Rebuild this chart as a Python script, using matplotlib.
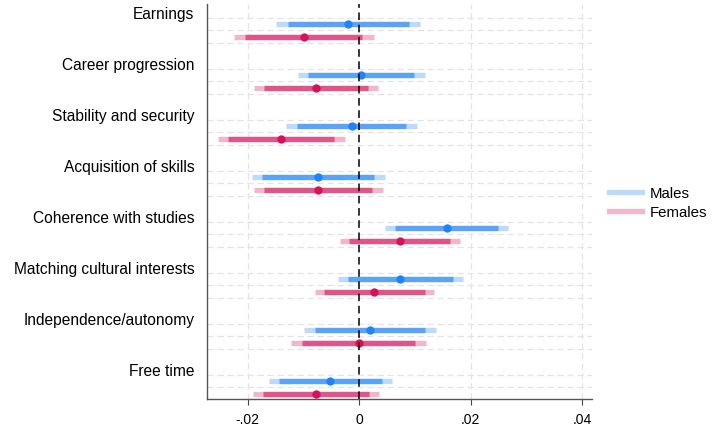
import numpy as np
import matplotlib.pyplot as plt
from matplotlib.lines import Line2D

plt.rcParams['font.family'] = ['Liberation Sans', 'DejaVu Sans']

outcomes = ['Earnings', 'Career progression', 'Stability and security',
            'Acquisition of skills', 'Coherence with studies',
            'Matching cultural interests', 'Independence/autonomy', 'Free time']

# point estimates
male_b = [-0.0020, 0.0004, -0.0013, -0.0074, 0.0157, 0.0074, 0.0020, -0.0052]
female_b = [-0.0099, -0.0077, -0.0140, -0.0073, 0.0073, 0.0027, 0.0000, -0.0078]

# 90% intervals (inner) and 95% intervals (outer)
male_ci90 = [(-0.0128, 0.0089), (-0.0091, 0.0099), (-0.0112, 0.0084), (-0.0174, 0.0027),
             (0.0065, 0.0249), (-0.0020, 0.0168), (-0.0079, 0.0119), (-0.0144, 0.0041)]
male_ci95 = [(-0.0149, 0.0110), (-0.0109, 0.0118), (-0.0131, 0.0104), (-0.0193, 0.0046),
             (0.0047, 0.0268), (-0.0038, 0.0186), (-0.0098, 0.0138), (-0.0162, 0.0059)]
female_ci90 = [(-0.0204, 0.0006), (-0.0171, 0.0016), (-0.0235, -0.0045), (-0.0171, 0.0023),
               (-0.0018, 0.0164), (-0.0063, 0.0118), (-0.0102, 0.0101), (-0.0172, 0.0017)]
female_ci95 = [(-0.0224, 0.0026), (-0.0189, 0.0034), (-0.0253, -0.0026), (-0.0189, 0.0043),
               (-0.0035, 0.0181), (-0.0080, 0.0135), (-0.0122, 0.0120), (-0.0190, 0.0035)]

xticks = [-0.02, 0, 0.02, 0.04]
xticklabels = ['-.02', '0', '.02', '.04']

blue_dot, blue_mid, blue_light = '#1f84f7', '#5ba3f6', '#bcdafb'
red_dot, red_mid, red_light = '#d6125a', '#e0548a', '#f2b6ca'

fig = plt.figure(figsize=(7.12, 4.31), dpi=100)
ax = fig.add_axes([0.2907, 0.0708, 0.5407, 0.9176])

g = np.arange(len(outcomes))
ym = g
yf = g + 0.25

# dashed row grid
for y0 in g:
    for off in (-0.125, 0.125, 0.375):
        ax.axhline(y0 + off, color='#e4e4e4', lw=0.9, ls=(0, (5, 3)), zorder=0)
for xv in xticks:
    if xv != 0:
        ax.axvline(xv, color='#e4e4e4', lw=0.9, ls=(0, (5, 3)), zorder=0)

def draw(ys, b, ci90, ci95, light, mid, dot):
    for y, est, c90, c95 in zip(ys, b, ci90, ci95):
        ax.plot(c95, [y, y], color=light, lw=3.8, solid_capstyle='butt', zorder=2)
        ax.plot(c90, [y, y], color=mid, lw=3.8, solid_capstyle='butt', zorder=3)
        ax.plot(est, y, 'o', color=dot, ms=6, mec='none', zorder=4)

draw(ym, male_b, male_ci90, male_ci95, blue_light, blue_mid, blue_dot)
draw(yf, female_b, female_ci90, female_ci95, red_light, red_mid, red_dot)

ax.axvline(0, color='black', lw=1.1, ls=(0, (5, 3)), zorder=5)

ax.set_xlim(-0.0273, 0.0418)
ax.set_ylim(7.36, -0.39)
ax.set_xticks(xticks)
ax.set_xticklabels(xticklabels, fontsize=10)
ax.tick_params(axis='x', length=4, color='#444444', pad=5)
ax.set_yticks(g - 0.23)
ax.set_yticklabels(outcomes, fontsize=11.2)
ax.tick_params(axis='y', length=0, pad=9)

for side in ('top', 'right'):
    ax.spines[side].set_visible(False)
for side in ('left', 'bottom'):
    ax.spines[side].set_color('#555555')
    ax.spines[side].set_linewidth(1.0)

handles = [Line2D([], [], color=blue_light, lw=3.8),
           Line2D([], [], color=red_light, lw=3.8)]
fig.legend(handles, ['Males', 'Females'], loc='center left',
           bbox_to_anchor=(0.842, 0.527), frameon=False, fontsize=10.8,
           handlelength=2.2, handletextpad=0.55, labelspacing=0.35,
           borderaxespad=0.2)

fig.savefig('out.png', dpi=100)
